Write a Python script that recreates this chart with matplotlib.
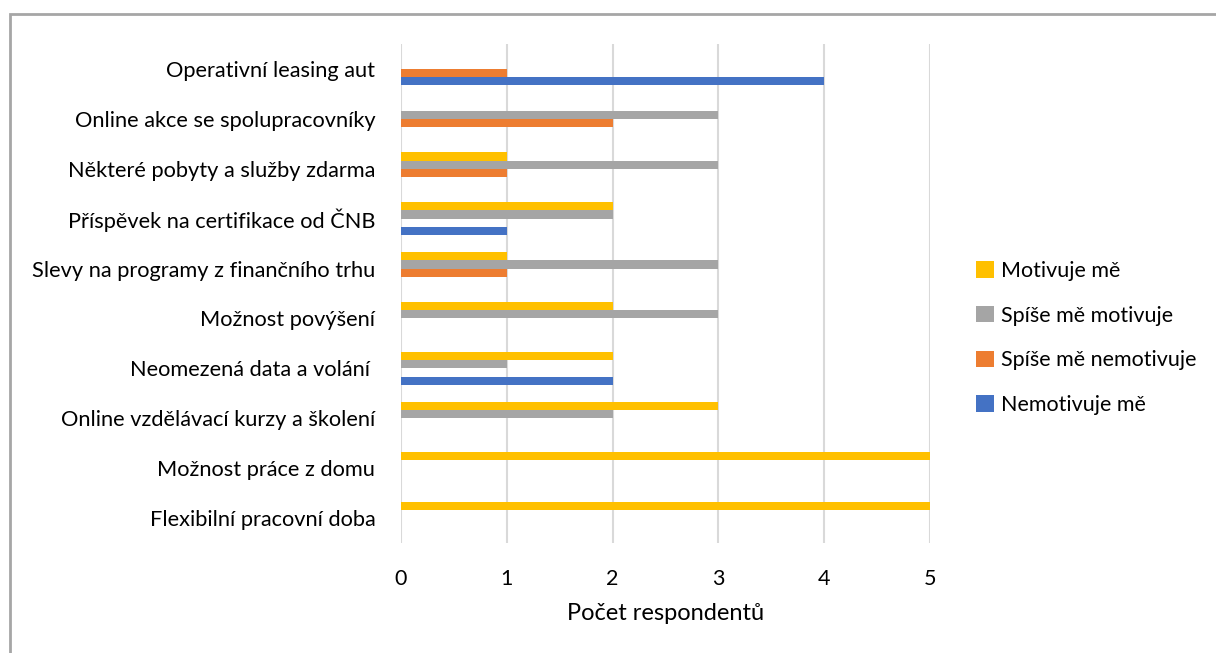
import numpy as np
import matplotlib.pyplot as plt
from matplotlib.patches import Rectangle

plt.rcParams['font.family'] = ['Lato', 'DejaVu Sans']

# Kategorie (odspodu nahoru)
kategorie = [
    "Flexibilní pracovní doba",
    "Možnost práce z domu",
    "Online vzdělávací kurzy a školení",
    "Neomezená data a volání ",
    "Možnost povýšení",
    "Slevy na programy z finančního trhu",
    "Příspěvek na certifikace od ČNB",
    "Některé pobyty a služby zdarma",
    "Online akce se spolupracovníky",
    "Operativní leasing aut",
]

nemotivuje = [0, 0, 0, 2, 0, 0, 1, 0, 0, 4]
spise_nemotivuje = [0, 0, 0, 0, 0, 1, 0, 1, 2, 1]
spise_motivuje = [0, 0, 2, 1, 3, 3, 2, 3, 3, 0]
motivuje = [5, 5, 3, 2, 2, 1, 2, 1, 0, 0]

serie = ["Nemotivuje mě", "Spíše mě nemotivuje", "Spíše mě motivuje", "Motivuje mě"]
barvy = ["#4472C4", "#ED7D31", "#A5A5A5", "#FFC000"]
hodnoty = [nemotivuje, spise_nemotivuje, spise_motivuje, motivuje]

fig = plt.figure(figsize=(12.16, 6.53), dpi=100)
ax = fig.add_axes([401/1216, 1 - 543/653, 529/1216, 499/653])

y = np.arange(len(kategorie))
h = 0.165
for i, (nazev, vals, c) in enumerate(zip(serie, hodnoty, barvy)):
    ax.barh(y + (i - 1.5) * h, vals, height=h, color=c, label=nazev, zorder=3)

ax.set_xlim(0, 5)
ax.set_ylim(-0.5, len(kategorie) - 0.5)
ax.set_yticks(y)
ax.set_yticklabels(kategorie, fontsize=15.7, color="#000000")
ax.set_xticks(range(6))
ax.tick_params(axis='x', labelsize=15.5, length=0, pad=19)
ax.tick_params(axis='y', length=0, pad=18.5)
ax.grid(axis='x', color="#d9d9d9", linewidth=1.5, zorder=0)
for s in ax.spines.values():
    s.set_visible(False)
ax.set_xlabel("Počet respondentů", fontsize=17, labelpad=10)

handles, labels = ax.get_legend_handles_labels()
fig.legend(handles[::-1], labels[::-1], loc='center left',
           bbox_to_anchor=(957/1216, 1 - 338/653), frameon=False,
           fontsize=15.5, handlelength=0.8, handleheight=0.8,
           handletextpad=0.35, labelspacing=1.15)

# rámeček kolem grafu
fig.patches.append(Rectangle((10/1216, -0.1), 1.2, 1 - 14/653 + 0.1,
                             transform=fig.transFigure, fill=False,
                             edgecolor="#a6a6a6", linewidth=2))

fig.savefig("out.png", dpi=100)
